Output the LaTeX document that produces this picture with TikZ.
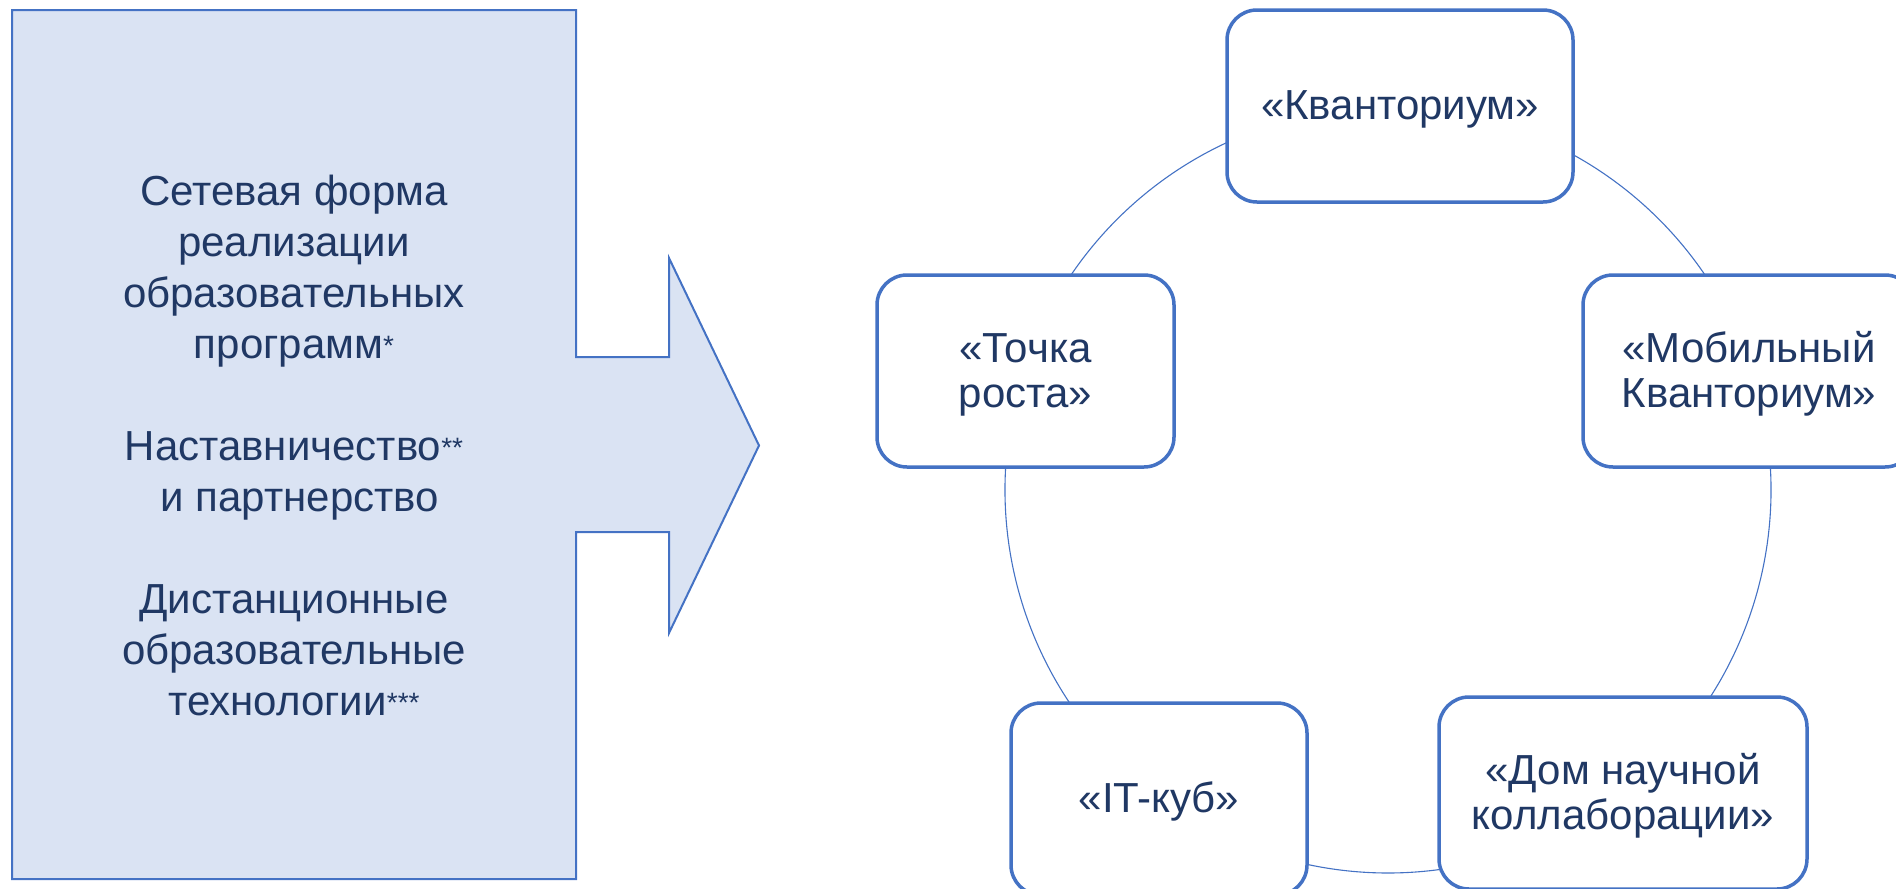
\documentclass[tikz,border=0pt]{standalone}
\usepackage{fontspec}
\setmainfont{Liberation Sans}
\usetikzlibrary{backgrounds}
\definecolor{accent}{HTML}{4472C4}
\definecolor{pale}{HTML}{DAE3F3}
\definecolor{navy}{HTML}{203864}
\newcommand\boxstrut{\rule[-9pt]{0pt}{45pt}}
\newcommand\leftstrut{\rule[-10pt]{0pt}{51pt}}
\newcommand\smallast[1]{\raisebox{3pt}{\fontsize{28}{28}\selectfont #1}}
\begin{document}
\begin{tikzpicture}[x=1pt,y=-1pt,
  hub/.style={draw=accent, line width=3.5pt, fill=white, rounded corners=30pt,
    minimum height=192pt, inner sep=0pt, text=navy,
    font=\fontsize{42}{45}\selectfont, align=center},
  ring/.style={draw=accent, line width=1.1pt},
  callout/.style={draw=accent, line width=2pt, fill=pale, line join=miter},
  bodytext/.style={text=navy, font=\fontsize{42}{51}\selectfont, align=center, inner sep=0pt}]
\clip (0,0) rectangle (1896,889);
% left callout arrow
\draw[callout] (12,10) -- (576,10) -- (576,357) -- (669,357) -- (669,258)
  -- (759,445.5) -- (669,633) -- (669,532) -- (576,532) -- (576,879) -- (12,879) -- cycle;
\node[bodytext] (txt) at (294,444.5) {%
  \leftstrut Сетевая форма\\
  \leftstrut реализации\\
  \leftstrut образовательных\\
  \leftstrut программ\smallast{*}\\
  \leftstrut\\
  \leftstrut Наставничество\smallast{**}\\
  \leftstrut\hspace*{11.7pt}и партнерство\\
  \leftstrut\\
  \leftstrut Дистанционные\\
  \leftstrut образовательные\\
  \leftstrut технологии\smallast{***}};
% cycle nodes
\node[hub, minimum width=346pt] (kv) at (1400,106) {\boxstrut«Кванториум»};
\node[hub, minimum width=332pt] (mob) at (1749,371) {\boxstrut«Мобильный\\\boxstrut Кванториум»};
\node[hub, minimum width=368pt] (dom) at (1623,793) {\boxstrut«Дом научной\\\boxstrut коллаборации»};
\node[hub, minimum width=296pt] (it) at (1159,799) {\boxstrut«IT-куб»};
\node[hub, minimum width=297pt] (pt) at (1025.5,371) {\boxstrut«Точка\\\boxstrut роста»};
\coordinate (O) at (1388,490);
\begin{scope}[on background layer]
  \draw[ring] ([shift={(O)}]-90:383) arc[start angle=-90, end angle=-18, radius=383]; % kv -> mob
  \draw[ring] ([shift={(O)}]-18:383) arc[start angle=-18, end angle=54, radius=383]; % mob -> dom
  \draw[ring] ([shift={(O)}]54:383) arc[start angle=54, end angle=126, radius=383]; % dom -> it
  \draw[ring] ([shift={(O)}]126:383) arc[start angle=126, end angle=198, radius=383]; % it -> pt
  \draw[ring] ([shift={(O)}]198:383) arc[start angle=198, end angle=270, radius=383]; % pt -> kv
\end{scope}
\end{tikzpicture}
\end{document}
